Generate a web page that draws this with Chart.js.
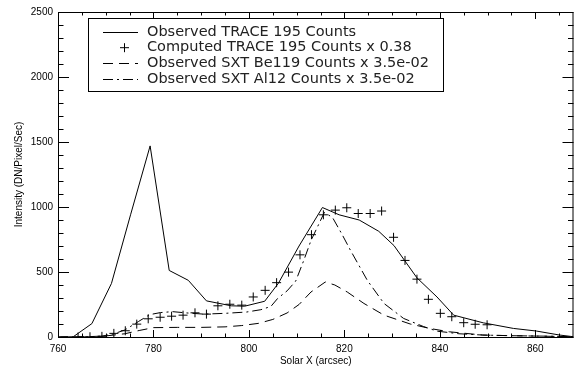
<!DOCTYPE html>
<html>
<head>
<meta charset="utf-8">
<script src="https://cdn.jsdelivr.net/npm/chart.js@4.4.0/dist/chart.umd.min.js"></script>
<style>
  html, body { margin: 0; padding: 0; background: #fff; }
  #wrap { width: 579px; height: 370px; }
</style>
</head>
<body>
<div id="wrap"><canvas id="chart" width="579" height="370"></canvas></div>
<script>
// ---- Data ----
const xTicks = [760, 780, 800, 820, 840, 860];
const yTicks = [0, 500, 1000, 1500, 2000, 2500];

// Observed TRACE 195 Counts (solid)
const traceX = [760.5, 763.2, 767.1, 771.2, 775.2, 779.3, 783.3, 787.3, 791.1, 796.3, 799.1, 803.3, 806.2, 810.5, 815.4, 818.9, 823.1, 827.2, 830.4, 835.2, 839.4, 842.9, 849.1, 855.4, 860.2, 865.1, 868];
const traceY = [0, 2, 103, 412, 940, 1470, 512, 436, 278, 240, 237, 275, 415, 700, 996, 940, 900, 813, 703, 455, 308, 168, 109, 66, 46, 15, 2];

// Computed TRACE 195 Counts x 0.38 (crosses)
const computedX = [764.2, 766.7, 769.2, 771.7, 774.1, 776.5, 778.9, 781.4, 783.8, 786.2, 788.7, 791.1, 793.5, 796.0, 798.5, 800.9, 803.4, 805.8, 808.3, 810.7, 813.1, 815.6, 818.1, 820.5, 822.9, 825.4, 827.8, 830.3, 832.7, 835.2, 837.6, 840.1, 842.5, 845.0, 847.4, 849.9];
const computedY = [0, 2, 5, 28, 48, 99, 140, 152, 160, 168, 186, 176, 240, 252, 245, 308, 359, 418, 499, 632, 787, 940, 976, 994, 950, 950, 969, 767, 589, 445, 290, 182, 156, 110, 98, 94];

// Observed SXT Be119 Counts x 3.5e-02 (dashed)
const be119X = [760, 766, 770, 774, 777, 780, 785, 790, 795, 798.5, 802, 805, 808, 810.5, 813, 816, 818, 820.6, 824.1, 828.3, 833.8, 838, 842, 849, 855, 862, 868];
const be119Y = [0, 2, 8, 25, 50, 72, 74, 74, 78, 88, 105, 135, 185, 250, 346, 423, 400, 346, 258, 168, 100, 65, 40, 15, 10, 6, 2];

// Observed SXT Al12 Counts x 3.5e-02 (dash-dot)
const al12X = [760, 766, 769, 771.5, 774, 776.9, 779.2, 781.5, 784, 787, 790.5, 795, 799.5, 802.5, 804.6, 806, 808, 809.8, 811.5, 813, 815.8, 817.5, 819.5, 821.3, 824.8, 828.3, 832.4, 836.6, 839.4, 844, 849, 855, 863, 868];
const al12Y = [0, 1, 6, 22, 54, 120, 172, 188, 195, 185, 176, 182, 192, 210, 235, 296, 355, 430, 590, 742, 958, 920, 790, 665, 436, 258, 143, 80, 45, 25, 15, 10, 6, 2];

const legendLabels = [
  "Observed TRACE 195 Counts",
  "Computed TRACE 195 Counts x 0.38",
  "Observed SXT Be119 Counts x 3.5e-02",
  "Observed SXT Al12 Counts x 3.5e-02",
];

const toPoints = (xs, ys) => xs.map((x, i) => ({ x: x, y: ys[i] }));

// ---- IDL style frame: box, inward ticks, boxed legend ----
const idlFrame = {
  id: "idlFrame",
  afterDraw(chart) {
    const { ctx, chartArea: a, scales } = chart;
    const sx = scales.x, sy = scales.y;
    ctx.save();
    ctx.strokeStyle = "#000";
    ctx.lineWidth = 1;
    ctx.setLineDash([]);
    ctx.strokeRect(a.left + 0.5, a.top + 0.5, a.right - a.left - 1, a.bottom - a.top);

    const seg = (x1, y1, x2, y2) => {
      ctx.beginPath(); ctx.moveTo(x1, y1); ctx.lineTo(x2, y2); ctx.stroke();
    };
    for (let v = sx.min; v <= sx.max; v += 5) {
      const px = Math.round(sx.getPixelForValue(v)) + 0.5;
      const len = xTicks.includes(v) ? 7 : 3.5;
      seg(px, a.bottom, px, a.bottom - len);
      seg(px, a.top, px, a.top + len);
    }
    for (let v = sy.min; v <= sy.max; v += 100) {
      const py = Math.round(sy.getPixelForValue(v)) + 0.5;
      const len = yTicks.includes(v) ? 11 : 5.5;
      seg(a.left, py, a.left + len, py);
      seg(a.right, py, a.right - len, py);
    }

    // legend
    const bx = a.left + 30, by = a.top + 6;
    ctx.strokeRect(bx + 0.5, by + 0.5, 355, 73);
    ctx.font = "14.5px 'DejaVu Sans'";
    ctx.fillStyle = "#222";
    ctx.textBaseline = "middle";
    chart.data.datasets.forEach((ds, i) => {
      const ry = by + 14 + i * 15.7;
      ctx.setLineDash(ds.borderDash || []);
      if (ds.showLine === false) {
        ctx.setLineDash([]);
        seg(bx + 32, ry, bx + 41, ry);
        seg(bx + 36.5, ry - 4.5, bx + 36.5, ry + 4.5);
      } else {
        seg(bx + 15, Math.round(ry) + 0.5, bx + 50, Math.round(ry) + 0.5);
      }
      ctx.setLineDash([]);
      ctx.fillText(ds.label, bx + 59, ry);
    });
    ctx.restore();
  },
};

const lineBase = {
  showLine: true,
  borderColor: "#000",
  borderWidth: 1,
  pointRadius: 0,
  tension: 0,
  fill: false,
};

const smallFont = { family: "'Liberation Sans', Arial, sans-serif", size: 10 };
const plainNumber = (v) => String(v);

new Chart(document.getElementById("chart"), {
  type: "scatter",
  data: {
    datasets: [
      { ...lineBase, label: legendLabels[0], data: toPoints(traceX, traceY) },
      {
        label: legendLabels[1],
        data: toPoints(computedX, computedY),
        showLine: false,
        pointStyle: "cross",
        pointRadius: 4.5,
        borderColor: "#000",
        borderWidth: 1,
      },
      { ...lineBase, label: legendLabels[2], data: toPoints(be119X, be119Y), borderDash: [10, 6] },
      { ...lineBase, label: legendLabels[3], data: toPoints(al12X, al12Y), borderDash: [10, 4, 2, 4] },
    ],
  },
  options: {
    responsive: false,
    animation: false,
    events: [],
    layout: { padding: { top: 12, right: 1, left: 0, bottom: 0 } },
    plugins: { legend: { display: false }, tooltip: { enabled: false } },
    scales: {
      x: {
        type: "linear",
        min: 760,
        max: 868,
        afterBuildTicks: (s) => { s.ticks = xTicks.map((v) => ({ value: v })); },
        afterFit: (s) => { s.height = 33; },
        grid: { display: false, drawTicks: false },
        border: { display: false },
        ticks: { color: "#000", font: smallFont, padding: 6, maxRotation: 0, autoSkip: false, callback: plainNumber },
        title: { display: true, text: "Solar X (arcsec)", color: "#000", font: smallFont, padding: { top: 0, bottom: 3 } },
      },
      y: {
        type: "linear",
        min: 0,
        max: 2500,
        afterBuildTicks: (s) => { s.ticks = yTicks.map((v) => ({ value: v })); },
        afterFit: (s) => { s.width = 58; },
        grid: { display: false, drawTicks: false },
        border: { display: false },
        ticks: { color: "#000", font: smallFont, padding: 5, autoSkip: false, callback: plainNumber },
        title: { display: true, text: "Intensity (DN/Pixel/Sec)", color: "#000", font: smallFont, padding: { top: 13, bottom: 0 } },
      },
    },
  },
  plugins: [idlFrame],
});
</script>
</body>
</html>
